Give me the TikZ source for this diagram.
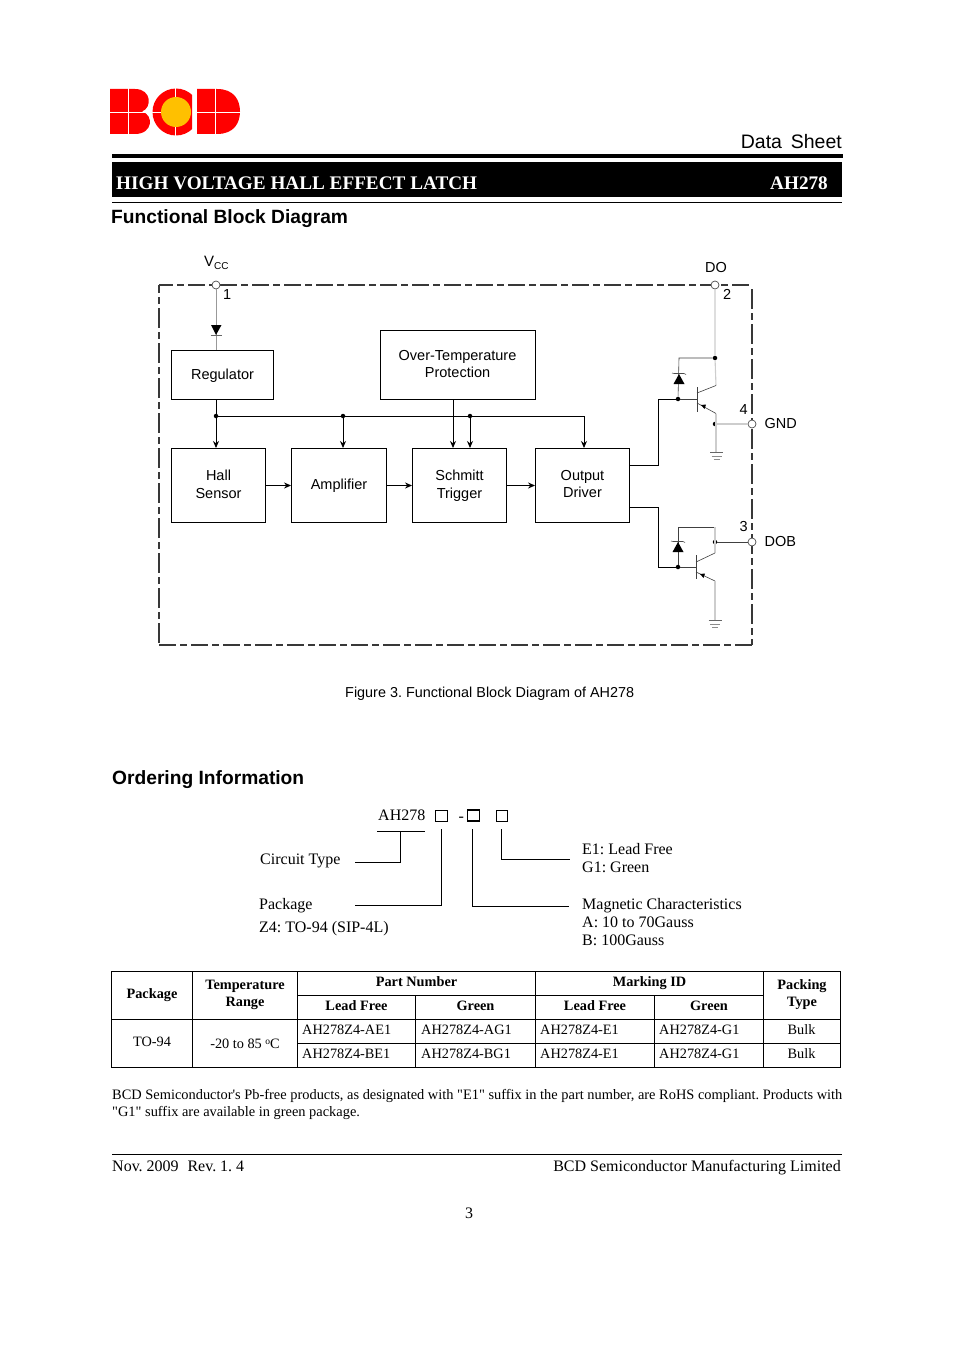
\documentclass[tikz,border=0pt]{standalone}
\usepackage{fontspec}
\setmainfont[Ligatures=TeXOff]{Liberation Serif}
\setsansfont{Liberation Sans}
\usetikzlibrary{arrows.meta}
\frenchspacing
\definecolor{bcdred}{RGB}{255,0,0}
\definecolor{bcdyel}{RGB}{255,192,0}
\definecolor{wiregrey}{RGB}{205,205,205}
\newcommand{\fsz}[1]{\fontsize{#1}{17.5}\selectfont}
\tikzset{
 x=1pt,y=-1pt,
 block/.style={draw=black,line width=0.9pt,inner sep=0pt,align=center,font=\sffamily\fsz{14.5}},
 sans/.style={inner sep=0pt,font=\sffamily\fsz{14.5},anchor=base west},
 serif/.style={inner sep=0pt,font=\rmfamily\fsz{16},anchor=base west},
 cell/.style={inner sep=0pt,font=\rmfamily\fsz{14.3},align=center,anchor=base},
 cellb/.style={inner sep=0pt,font=\rmfamily\bfseries\fsz{14.3},align=center,anchor=base},
 wire/.style={line width=0.9pt,draw=black},
 sig/.style={wire,-{Stealth[length=7pt,width=6pt]}},
 thin wire/.style={line width=0.6pt,draw=black!75},
 grey wire/.style={line width=1.1pt,draw=wiregrey},
 pin/.style={circle,draw=black!70,fill=white,line width=0.7pt,minimum size=8pt,inner sep=0pt},
 jdot/.style={circle,fill=black,minimum size=4.5pt,inner sep=0pt},
 hframe/.style={line width=1.2pt,draw=black!78,dash pattern=on 17pt off 4pt on 7pt off 4pt},
 vframe/.style={line width=1.2pt,draw=black!78,dash pattern=on 20pt off 4pt on 7pt off 4pt},
 tline/.style={line width=1pt,draw=black},
 oline/.style={line width=0.9pt,draw=black},
 obox/.style={draw=black,line width=0.9pt,inner sep=0pt,minimum width=11.5pt,minimum height=11pt},
}
\begin{document}
\begin{tikzpicture}
\useasboundingbox (0,0) rectangle (954,1351);
% logo
\fill[bcdred] (110,89) -- (135,89) .. controls (152,89) and (152,108) .. (142,111.5) .. controls (154,115) and (153,134) .. (135,134) -- (110,134) -- cycle;
\begin{scope}
 \clip (150,85) rectangle (192,140);
 \fill[bcdred] (176,112) circle[radius=23.5];
\end{scope}
\fill[bcdyel] (176,112) circle[radius=15];
\fill[bcdred] (197,89) -- (217,89) .. controls (234,89) and (240,100) .. (240,111.5) .. controls (240,123) and (234,134) .. (217,134) -- (197,134) -- cycle;
\draw[white,line width=0.8pt] (128,87) -- (128,136) (108,112) -- (152,112) (175,86) -- (175,97) (175,127) -- (175,139) (150,112) -- (161,112) (215.5,87) -- (215.5,136) (195,112) -- (242,112);
% header
\node[inner sep=0pt,anchor=east,font=\sffamily\fsz{19.5}] (ds) at (842,141.5) {Data\hspace{0.45em}Sheet};
\fill[black] (112,154) rectangle (843,158);
\fill[black] (112,162) rectangle (842,197);
\draw[black,line width=1pt] (112,202.5) -- (842,202.5);
\node[inner sep=0pt,anchor=west,text=white,font=\rmfamily\bfseries\fsz{19.2}] (ht) at (116,183) {HIGH VOLTAGE HALL EFFECT LATCH};
\node[inner sep=0pt,anchor=east,text=white,font=\rmfamily\bfseries\fsz{19.2}] (hp) at (828,183) {AH278};
\node[inner sep=0pt,anchor=base west,font=\sffamily\bfseries\fsz{19.2}] (t1) at (111,223) {Functional Block Diagram};
% frame
\draw[hframe,dash phase=3pt] (159,285) -- (752,285);
\draw[hframe] (159,645) -- (752,645);
\draw[vframe,dash phase=12pt] (159,285) -- (159,645);
\draw[vframe,dash phase=31pt] (752,285) -- (752,645);
% blocks
\node[block,text depth=1pt,minimum width=102pt,minimum height=49pt] (reg) at (222.5,375) {Regulator};
\node[block,text depth=2pt,minimum width=155pt,minimum height=69pt] (ot) at (457.5,365) {Over-Temperature\\Protection};
\node[block,text depth=3pt,minimum width=94pt,minimum height=74pt] (hall) at (218.5,485.5) {Hall\\Sensor};
\node[block,minimum width=95pt,minimum height=74pt] (amp) at (339,485.5) {Amplifier};
\node[block,text depth=3pt,minimum width=94pt,minimum height=74pt] (sch) at (459.5,485.5) {Schmitt\\Trigger};
\node[block,text depth=3pt,minimum width=94pt,minimum height=74pt] (out) at (582.5,485.5) {Output\\Driver};
% pins
\node[pin] (vcc) at (216,285) {};
\node[pin] (do) at (715,285) {};
\node[pin] (gnd) at (752,424) {};
\node[pin] (dob) at (752,542) {};
\node[inner sep=0pt,anchor=base west,font=\sffamily\fsz{15}] (lvcc) at (204,266.5) {V\raisebox{-0.35ex}{\fsz{10}CC}};
\node[sans] (ldo) at (705,272.5) {DO};
\node[sans] (lgnd) at (764.5,428.5) {GND};
\node[sans] (ldob) at (764.5,546.5) {DOB};
\node[sans] (n1) at (223,299.5) {1};
\node[sans] (n2) at (723,299.5) {2};
\node[sans] (n3) at (739.5,531.5) {3};
\node[sans] (n4) at (739.5,414.5) {4};
% Vcc diode
\draw[line width=0.9pt,draw=black!40] (vcc) -- (reg.north -| vcc);
\fill[black] (211,325) -- (221.5,325) -- (216,335) -- cycle;
\draw[black!60,line width=0.6pt] (210.5,335.5) -- (222,335.5);
% bus
\coordinate (b0) at (216,416);
\coordinate (b1) at (343,416);
\coordinate (b2) at (470,416);
\coordinate (b3) at (584,416);
\draw[wire] (b0) -- (b3);
\draw[sig] (216,399.5) -- (216,448);
\draw[sig] (b1) -- (343,448);
\draw[sig] (453,399.5) -- (453,448);
\draw[sig] (b2) -- (470,448);
\draw[sig] (b3) -- (584,448);
\node[jdot] (j0) at (b0) {};
\node[jdot] (j1) at (b1) {};
\node[jdot] (j2) at (b2) {};
% signal arrows
\draw[sig] (hall.east) -- (amp.west);
\draw[sig] (amp.east) -- (sch.west);
\draw[sig] (sch.east) -- (out.west);
% upper output stage
\node[jdot] (ub) at (678,399) {};
\node[jdot] (uc) at (715,358) {};
\node[jdot] (ue) at (715,424) {};
\draw[wire] (629.5,465.5) -- (658,465.5) -- (658,399) -- (ub);
\draw[grey wire] (do) -- (uc) -- (716,385.5);
\draw[thin wire] (uc) -- (679,358) -- (ub);
\fill[black] (679,374) -- (684.5,384) -- (673.5,384) -- cycle;
\draw[black!70,line width=0.6pt] (672,373) -- (674,373.5) -- (684,373.5) -- (686,374.5);
\draw[thin wire] (ub) -- (697,399);
\draw[thin wire] (697,387) -- (697,412);
\draw[thin wire] (697,393) -- (716,385.5);
\draw[thin wire] (697,403) -- (716,413.5);
\fill[black] (701,405) -- (706,404.5) -- (704.5,409) -- cycle;
\draw[grey wire] (716,413.5) -- (716,452);
\draw[grey wire] (ue) -- (gnd);
\draw[black!60,line width=0.6pt] (710,452.5) -- (723,452.5);
\draw[black!45,line width=0.6pt] (711.5,456) -- (721.5,456) (713.5,459) -- (719.5,459);
% lower output stage
\node[jdot] (lb) at (678,567) {};
\node[jdot] (lc) at (715,542) {};
\draw[wire] (629.5,507) -- (658,507) -- (658,567) -- (lb);
\draw[thin wire] (715,527) -- (678,527) -- (lb);
\draw[grey wire] (715,527) -- (715,553);
\draw[thin wire] (lc) -- (dob);
\fill[black] (678,542) -- (683.5,552) -- (672.5,552) -- cycle;
\draw[black!70,line width=0.6pt] (671,541) -- (673,541.5) -- (683,541.5) -- (685,542.5);
\draw[thin wire] (lb) -- (696,567);
\draw[thin wire] (696,555) -- (696,579);
\draw[thin wire] (696,562) -- (715,553);
\draw[thin wire] (696,572) -- (715,581);
\fill[black] (700,574) -- (705,573.5) -- (703.5,578) -- cycle;
\draw[grey wire] (715,581) -- (715,620);
\draw[black!60,line width=0.6pt] (708.5,620.5) -- (721.5,620.5);
\draw[black!45,line width=0.6pt] (710,624) -- (720,624) (712,627) -- (718,627);
% caption
\node[inner sep=0pt,font=\sffamily\fsz{14.4},anchor=base west] (cap) at (345,697) {Figure 3. Functional Block Diagram of AH278};
% ordering
\node[inner sep=0pt,anchor=base west,font=\sffamily\bfseries\fsz{19.2}] (t2) at (112,784.5) {Ordering Information};
\node[serif] (ah) at (378,820.5) {AH278};
\node[obox] (s1) at (441.5,815.5) {};
\node[serif] (hy) at (458.5,821) {-};
\node[obox,line width=1.4pt] (s2) at (473.5,815.5) {};
\node[obox] (s3) at (502,815.5) {};
\node[serif] (ct) at (260,864) {Circuit Type};
\node[serif] (pk) at (259,909) {Package};
\node[serif] (z4) at (259,932) {Z4: TO-94 (SIP-4L)};
\node[serif] (e1) at (582,854) {E1: Lead Free};
\node[serif] (g1) at (582,872) {G1: Green};
\node[serif] (mg) at (582,909) {Magnetic Characteristics};
\node[serif] (ma) at (582,927) {A: 10 to 70Gauss};
\node[serif] (mb) at (582,945) {B: 100Gauss};
\coordinate (ctc) at (355,862);
\coordinate (pkc) at (355,905.5);
\coordinate (mgc) at (569,906.5);
\coordinate (e1c) at (570,859.5);
\draw[oline] (377,831.5) -- (425,831.5);
\draw[oline] (400.5,831.5) -- (400.5,862) -- (ctc);
\draw[oline] (441.5,829) -- (441.5,905.5) -- (pkc);
\draw[oline] (472.5,829) -- (472.5,906.5) -- (mgc);
\draw[oline] (501.5,829) -- (501.5,859.5) -- (e1c);
% table
\draw[tline] (111.3,971.7) rectangle (840.3,1067.3);
\draw[tline] (192.3,971.7) -- (192.3,1067.3) (297.3,971.7) -- (297.3,1067.3) (535.3,971.7) -- (535.3,1067.3) (763.3,971.7) -- (763.3,1067.3);
\draw[tline] (415.3,995.3) -- (415.3,1067.3) (654.3,995.3) -- (654.3,1067.3);
\draw[tline] (297.3,995.3) -- (763.3,995.3);
\draw[tline] (111.3,1019.3) -- (840.3,1019.3);
\draw[tline] (297.3,1043.3) -- (840.3,1043.3);
\node[cellb] (c1) at (152,998.3) {Package};
\node[cellb] (c2) at (245,1006.7) {Temperature\\Range};
\node[cellb] (c3) at (416.5,986.7) {Part Number};
\node[cellb] (c4) at (649.5,986.7) {Marking ID};
\node[cellb] (c5) at (802,1006.7) {Packing\\Type};
\node[cellb] (c6) at (356.5,1010.5) {Lead Free};
\node[cellb] (c7) at (475.5,1010.5) {Green};
\node[cellb] (c8) at (595,1010.5) {Lead Free};
\node[cellb] (c9) at (709,1010.5) {Green};
\node[cell] (d1) at (152,1046.5) {TO-94};
\node[cell] (d2) at (245,1048.3) {-20 to 85 \raisebox{0.6ex}{\fsz{9.5}o}C};
\node[cell,anchor=base west] (d3) at (302,1034.7) {AH278Z4-AE1};
\node[cell,anchor=base west] (d4) at (421,1034.7) {AH278Z4-AG1};
\node[cell,anchor=base west] (d5) at (540,1034.7) {AH278Z4-E1};
\node[cell,anchor=base west] (d6) at (659,1034.7) {AH278Z4-G1};
\node[cell] (d7) at (801.5,1034.7) {Bulk};
\node[cell,anchor=base west] (d8) at (302,1058.3) {AH278Z4-BE1};
\node[cell,anchor=base west] (d9) at (421,1058.3) {AH278Z4-BG1};
\node[cell,anchor=base west] (d10) at (540,1058.3) {AH278Z4-E1};
\node[cell,anchor=base west] (d11) at (659,1058.3) {AH278Z4-G1};
\node[cell] (d12) at (801.5,1058.3) {Bulk};
% note
\node[cell,font=\rmfamily\fsz{14.4},anchor=base west] (nt1) at (112,1099.3) {BCD Semiconductor's Pb-free products, as designated with "E1" suffix in the part number, are RoHS compliant. Products with};
\node[cell,font=\rmfamily\fsz{14.4},anchor=base west] (nt2) at (112,1116.7) {"G1" suffix are available in green package.};
% footer
\draw[black,line width=0.8pt] (112,1154.5) -- (842,1154.5);
\node[serif] (f1) at (112,1171.5) {Nov. 2009\hspace{0.3em} Rev. 1. 4};
\node[serif,anchor=base east] (f2) at (841,1171.5) {BCD Semiconductor Manufacturing Limited};
\node[serif,anchor=base] (f3) at (469,1218) {3};
\end{tikzpicture}
\end{document}
